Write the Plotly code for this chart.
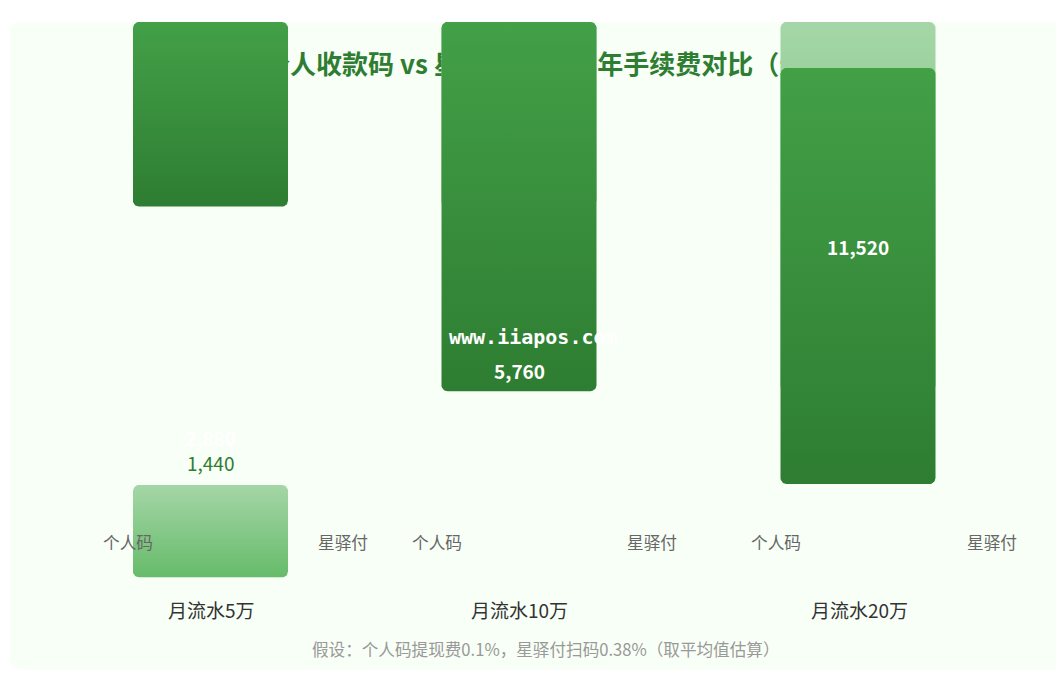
import numpy as np
import plotly.graph_objects as go

# ---------------- data ----------------
groups = ["月流水5万", "月流水10万", "月流水20万"]
series_names = ["个人码", "星驿付"]
personal_fee = [1440, 2880, 5760]      # 个人码 annual fee (yuan)
xyf_fee = [2880, 5760, 11520]          # 星驿付 annual fee (yuan)
title_text = "个人收款码 vs 星驿付POS机 年手续费对比（元）"
note_text = "假设：个人码提现费0.1%，星驿付扫码0.38%（取平均值估算）"
watermark_text = "www.iiapos.com"

# ---------------- layout constants (pixels, window coordinates) ----------------
W, H = 1064, 675
OFF = 8                         # page body margin
K = 0.0641                      # pixels per yuan on the bar axis
group_cx = [210.5, 519, 858]
bar_w = 155
light_top_px = [485, 22, 22]
dark_top_px = [22, 22, 68]
dark_cap_px = 416
series_label_x = [(128, 343), (437, 652), (776, 992)]
group_label_x = [211, 519, 859]

CJK = "Noto Sans CJK SC, Microsoft YaHei, sans-serif"
DARK_TOP, DARK_BOT = "#43a047", "#2e7d32"
LIGHT_TOP, LIGHT_BOT = "#a5d6a7", "#66bb6a"


def rrect(x0, x1, y0, y1, rx, ry, n=10):
    xs, ys = [], []
    corners = [(x1 - rx, y0 + ry, -90, 0), (x1 - rx, y1 - ry, 0, 90),
               (x0 + rx, y1 - ry, 90, 180), (x0 + rx, y0 + ry, 180, 270)]
    for cx, cy, a0, a1 in corners:
        t = np.radians(np.linspace(a0, a1, n))
        xs.extend(cx + rx * np.cos(t))
        ys.extend(cy + ry * np.sin(t))
    xs.append(xs[0]); ys.append(ys[0])
    return xs, ys


fig = go.Figure()

# title (drawn underneath the bars)
fig.add_trace(go.Scatter(
    x=[264], y=[67], mode="text", text=[title_text], textposition="middle right",
    textfont=dict(family=CJK, size=26, color="#2e7d32", weight="bold"),
    hoverinfo="skip", showlegend=False, xaxis="x", yaxis="y"))

# bars: 个人码 (light) first, then 星驿付 (dark) on top
cap_units = dark_cap_px / K
for vals, tops, ctop, cbot, cap in [
        (personal_fee, light_top_px, LIGHT_TOP, LIGHT_BOT, None),
        (xyf_fee, dark_top_px, DARK_TOP, DARK_BOT, cap_units)]:
    for i, v in enumerate(vals):
        h = v if cap is None else min(v, cap)
        top_u = tops[i] / K
        bot_u = top_u + h
        xs, ys = rrect(group_cx[i] - bar_w / 2, group_cx[i] + bar_w / 2,
                       top_u, bot_u, 6, 6 / K)
        fig.add_trace(go.Scatter(
            x=xs, y=ys, mode="lines", fill="toself", line=dict(width=0),
            fillgradient=dict(type="vertical", start=top_u, stop=bot_u,
                              colorscale=[[0, ctop], [1, cbot]]),
            hoverinfo="skip", showlegend=False, xaxis="x", yaxis="y2"))

ann = []
# value labels
ann.append(dict(x=group_cx[0], y=462, text=f"{personal_fee[0]:,}",
                font=dict(family=CJK, size=19, color="#2e7d32")))
ann.append(dict(x=group_cx[0], y=437, text=f"<b>{xyf_fee[0]:,}</b>",
                font=dict(family=CJK, size=19, color="#ffffff")))
ann.append(dict(x=group_cx[1], y=370, text=f"<b>{xyf_fee[1]:,}</b>",
                font=dict(family=CJK, size=19, color="#ffffff")))
ann.append(dict(x=group_cx[2], y=246, text=f"<b>{xyf_fee[2]:,}</b>",
                font=dict(family=CJK, size=19, color="#ffffff")))
# watermark
ann.append(dict(x=533, y=337, text=f"<b>{watermark_text}</b>",
                font=dict(family="DejaVu Sans Mono, monospace", size=20, color="#ffffff")))
# series labels
for i, (xa, xb) in enumerate(series_label_x):
    ann.append(dict(x=xa, y=542, text=series_names[0],
                    font=dict(family=CJK, size=16.7, color="#666666")))
    ann.append(dict(x=xb, y=542, text=series_names[1],
                    font=dict(family=CJK, size=16.7, color="#666666")))
# group labels
for i, g in enumerate(groups):
    ann.append(dict(x=group_label_x[i], y=609, text=g,
                    font=dict(family=CJK, size=19, color="#333333")))
# footnote
ann.append(dict(x=546, y=649, text=note_text,
                font=dict(family=CJK, size=16.6, color="#999999")))
for a in ann:
    a.update(xref="x", yref="y", showarrow=False, xanchor="center", yanchor="middle")

x0, x1, y0, y1, r = 10, 1100, 22, 670, 12
panel_path = (f"M {x0 + r},{y0} L {x1 - r},{y0} Q {x1},{y0} {x1},{y0 + r} "
              f"L {x1},{y1 - r} Q {x1},{y1} {x1 - r},{y1} L {x0 + r},{y1} "
              f"Q {x0},{y1} {x0},{y1 - r} L {x0},{y0 + r} Q {x0},{y0} {x0 + r},{y0} Z")

fig.update_layout(
    width=W - OFF, height=H - OFF, margin=dict(l=0, r=0, t=0, b=0, pad=0),
    paper_bgcolor="#ffffff", plot_bgcolor="rgba(0,0,0,0)",
    showlegend=False, hovermode=False,
    xaxis=dict(range=[OFF, W], visible=False, fixedrange=True),
    yaxis=dict(range=[H, OFF], visible=False, fixedrange=True),
    yaxis2=dict(range=[H / K, OFF / K], visible=False, fixedrange=True, overlaying="y"),
    shapes=[dict(type="path", path=panel_path, xref="x", yref="y", layer="below",
                 fillcolor="#f8fff6", line=dict(width=0))],
    annotations=ann,
)

fig.write_html("out.html", config={"displayModeBar": False})
